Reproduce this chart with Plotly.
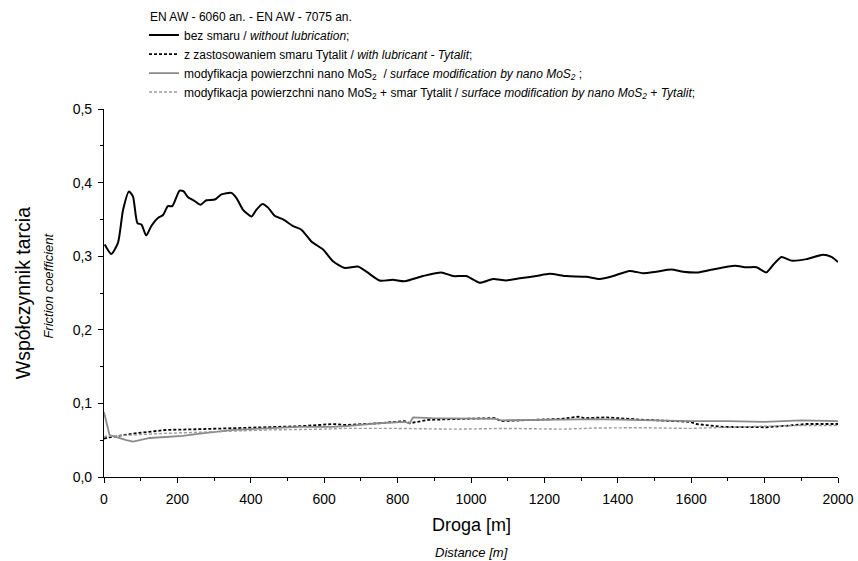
import plotly.graph_objects as go

# Black solid: bez smaru / without lubrication
x_dry = [2, 20, 38, 52, 68, 79, 91, 102, 115, 129, 147, 161, 174, 186, 206, 217, 229, 247, 263, 279,
         302, 320, 347, 361, 379, 402, 415, 432, 447, 465, 488, 515, 538, 565, 597, 624, 656, 692, 715,
         751, 787, 819, 869, 919, 951, 987, 1024, 1060, 1096, 1133, 1178, 1214, 1260, 1314, 1351, 1387,
         1432, 1469, 1505, 1546, 1578, 1619, 1659, 1719, 1750, 1778, 1805, 1823, 1846, 1873, 1914, 1959,
         1982, 2000]
y_dry = [0.316, 0.303, 0.318, 0.363, 0.388, 0.381, 0.345, 0.343, 0.328, 0.341, 0.352, 0.356, 0.368, 0.368,
         0.389, 0.388, 0.380, 0.375, 0.370, 0.376, 0.377, 0.384, 0.386, 0.379, 0.363, 0.354, 0.363, 0.371,
         0.366, 0.355, 0.350, 0.341, 0.336, 0.320, 0.309, 0.293, 0.284, 0.286, 0.279, 0.267, 0.268, 0.266,
         0.273, 0.278, 0.273, 0.273, 0.264, 0.269, 0.267, 0.270, 0.273, 0.276, 0.273, 0.272, 0.269, 0.273,
         0.280, 0.277, 0.279, 0.282, 0.279, 0.278, 0.282, 0.287, 0.285, 0.285, 0.278, 0.288, 0.299, 0.294,
         0.296, 0.302, 0.299, 0.292]

# Black dashed: with lubricant - Tytalit
x_lub = [0, 15, 79, 170, 261, 352, 442, 533, 624, 656, 747, 819, 833, 883, 974, 1065, 1083, 1155, 1246,
         1292, 1310, 1369, 1460, 1596, 1614, 1687, 1805, 1868, 1914, 2000]
y_lub = [0.052, 0.054, 0.059, 0.064, 0.065, 0.066, 0.068, 0.069, 0.072, 0.0707, 0.073, 0.076, 0.073, 0.0776,
         0.079, 0.080, 0.076, 0.0776, 0.079, 0.082, 0.080, 0.081, 0.078, 0.075, 0.072, 0.068, 0.0676, 0.070,
         0.072, 0.072]

# Gray solid: surface modification by nano MoS2
x_mos = [0, 15, 61, 79, 125, 215, 261, 352, 442, 533, 624, 660, 747, 819, 833, 842, 893, 974, 1065, 1083,
         1155, 1246, 1337, 1460, 1596, 1700, 1800, 1900, 2000]
y_mos = [0.088, 0.057, 0.050, 0.048, 0.053, 0.056, 0.059, 0.064, 0.066, 0.068, 0.068, 0.069, 0.073, 0.075,
         0.073, 0.081, 0.080, 0.080, 0.079, 0.077, 0.077, 0.078, 0.0785, 0.077, 0.076, 0.076, 0.075, 0.077,
         0.076]

# Gray dashed: surface modification by nano MoS2 + Tytalit
x_mt = [0, 30, 150, 300, 450, 600, 656, 800, 950, 1100, 1250, 1337, 1460, 1596, 1700, 1800, 1900, 2000]
y_mt = [0.055, 0.056, 0.059, 0.062, 0.064, 0.065, 0.066, 0.066, 0.065, 0.066, 0.065, 0.0665, 0.067, 0.066,
        0.068, 0.069, 0.070, 0.070]

legend_title = "EN AW - 6060 an. - EN AW - 7075 an."
names = [
    "bez smaru / <i>without lubrication</i>;",
    "z zastosowaniem smaru Tytalit / <i>with lubricant - Tytalit</i>;",
    "modyfikacja powierzchni nano MoS<sub>2</sub>  / <i>surface modification by nano MoS<sub>2</sub></i> ;",
    "modyfikacja powierzchni nano MoS<sub>2</sub> + smar Tytalit / <i>surface modification by nano MoS<sub>2</sub> + Tytalit</i>;",
]

x_ticks = [0, 200, 400, 600, 800, 1000, 1200, 1400, 1600, 1800, 2000]
y_ticks = [0.0, 0.1, 0.2, 0.3, 0.4, 0.5]
y_ticklabels = ["0,0", "0,1", "0,2", "0,3", "0,4", "0,5"]

FONT = "Liberation Sans, Arial, sans-serif"

fig = go.Figure()
fig.add_trace(go.Scatter(x=x_dry, y=y_dry, mode="lines", name=names[0],
                         line=dict(color="#000000", width=2, shape="spline", smoothing=0.6)))
fig.add_trace(go.Scatter(x=x_lub, y=y_lub, mode="lines", name=names[1],
                         line=dict(color="#000000", width=1.8, dash="3px,2px")))
fig.add_trace(go.Scatter(x=x_mos, y=y_mos, mode="lines", name=names[2],
                         line=dict(color="#8a8a8a", width=1.8)))
fig.add_trace(go.Scatter(x=x_mt, y=y_mt, mode="lines", name=names[3],
                         line=dict(color="#9a9a9a", width=1.4, dash="3px,2px")))

axis_common = dict(showgrid=False, zeroline=False, showline=True, linecolor="#000", linewidth=1.2,
                   tickcolor="#000", tickfont=dict(family=FONT, size=14, color="#000"))

fig.update_layout(
    width=858, height=561,
    margin=dict(l=104, r=20, t=109, b=84, autoexpand=False),
    plot_bgcolor="white", paper_bgcolor="white",
    font=dict(family=FONT, size=12, color="#000"),
    showlegend=True,
    legend=dict(
        xref="container", yref="container",
        x=0.1678, y=0.9634, xanchor="left", yanchor="top",
        bgcolor="rgba(0,0,0,0)", font=dict(family=FONT, size=12), tracegroupgap=0,
        itemwidth=30,
    ),
    xaxis=dict(range=[0, 2000], ticks="outside", ticklen=5, tickvals=x_ticks, ticklabelstandoff=4,
               minor=dict(dtick=100, tick0=0, ticks="outside", ticklen=3, tickcolor="#000"),
               **axis_common),
    yaxis=dict(range=[0, 0.5], ticks="outside", ticklen=5, tickvals=y_ticks, ticktext=y_ticklabels,
               ticklabelstandoff=3,
               minor=dict(dtick=0.05, tick0=0, ticks="outside", ticklen=3, tickcolor="#000"),
               **axis_common),
    xaxis2=dict(range=[0, 2000], overlaying="x", side="top", anchor="y", ticks="inside", ticklen=5,
                tickvals=x_ticks, showticklabels=False,
                minor=dict(dtick=100, tick0=0, ticks="inside", ticklen=3, tickcolor="#000"),
                showgrid=False, zeroline=False, showline=True, linecolor="#000", linewidth=1.2, tickcolor="#000"),
    yaxis2=dict(range=[0, 0.5], overlaying="y", side="right", anchor="x", ticks="inside", ticklen=5,
                tickvals=y_ticks, showticklabels=False,
                minor=dict(dtick=0.05, tick0=0, ticks="inside", ticklen=3, tickcolor="#000"),
                showgrid=False, zeroline=False, showline=True, linecolor="#000", linewidth=1.2, tickcolor="#000"),
)

fig.add_annotation(text=legend_title, xref="paper", yref="paper", x=0.060, y=1.25, xanchor="left",
                   yanchor="middle", showarrow=False, font=dict(family=FONT, size=12))
fig.add_annotation(text="Droga [m]", xref="paper", yref="paper", x=0.5, y=-0.1304, yanchor="middle",
                   showarrow=False, font=dict(family=FONT, size=18))
fig.add_annotation(text="<i>Distance [m]</i>", xref="paper", yref="paper", x=0.5, y=-0.2065, yanchor="middle",
                   showarrow=False, font=dict(family=FONT, size=13))
fig.add_annotation(text="Współczynnik tarcia", xref="paper", yref="paper", x=-0.110, y=0.5, xanchor="center",
                   yanchor="middle", textangle=-90, showarrow=False, font=dict(family=FONT, size=19.5))
fig.add_annotation(text="<i>Friction coefficient</i>", xref="paper", yref="paper", x=-0.075, y=0.52,
                   xanchor="center", yanchor="middle", textangle=-90, showarrow=False,
                   font=dict(family=FONT, size=13))

fig.write_html("out.html", config={"displayModeBar": False},
               post_script="document.body.style.margin='0';")
